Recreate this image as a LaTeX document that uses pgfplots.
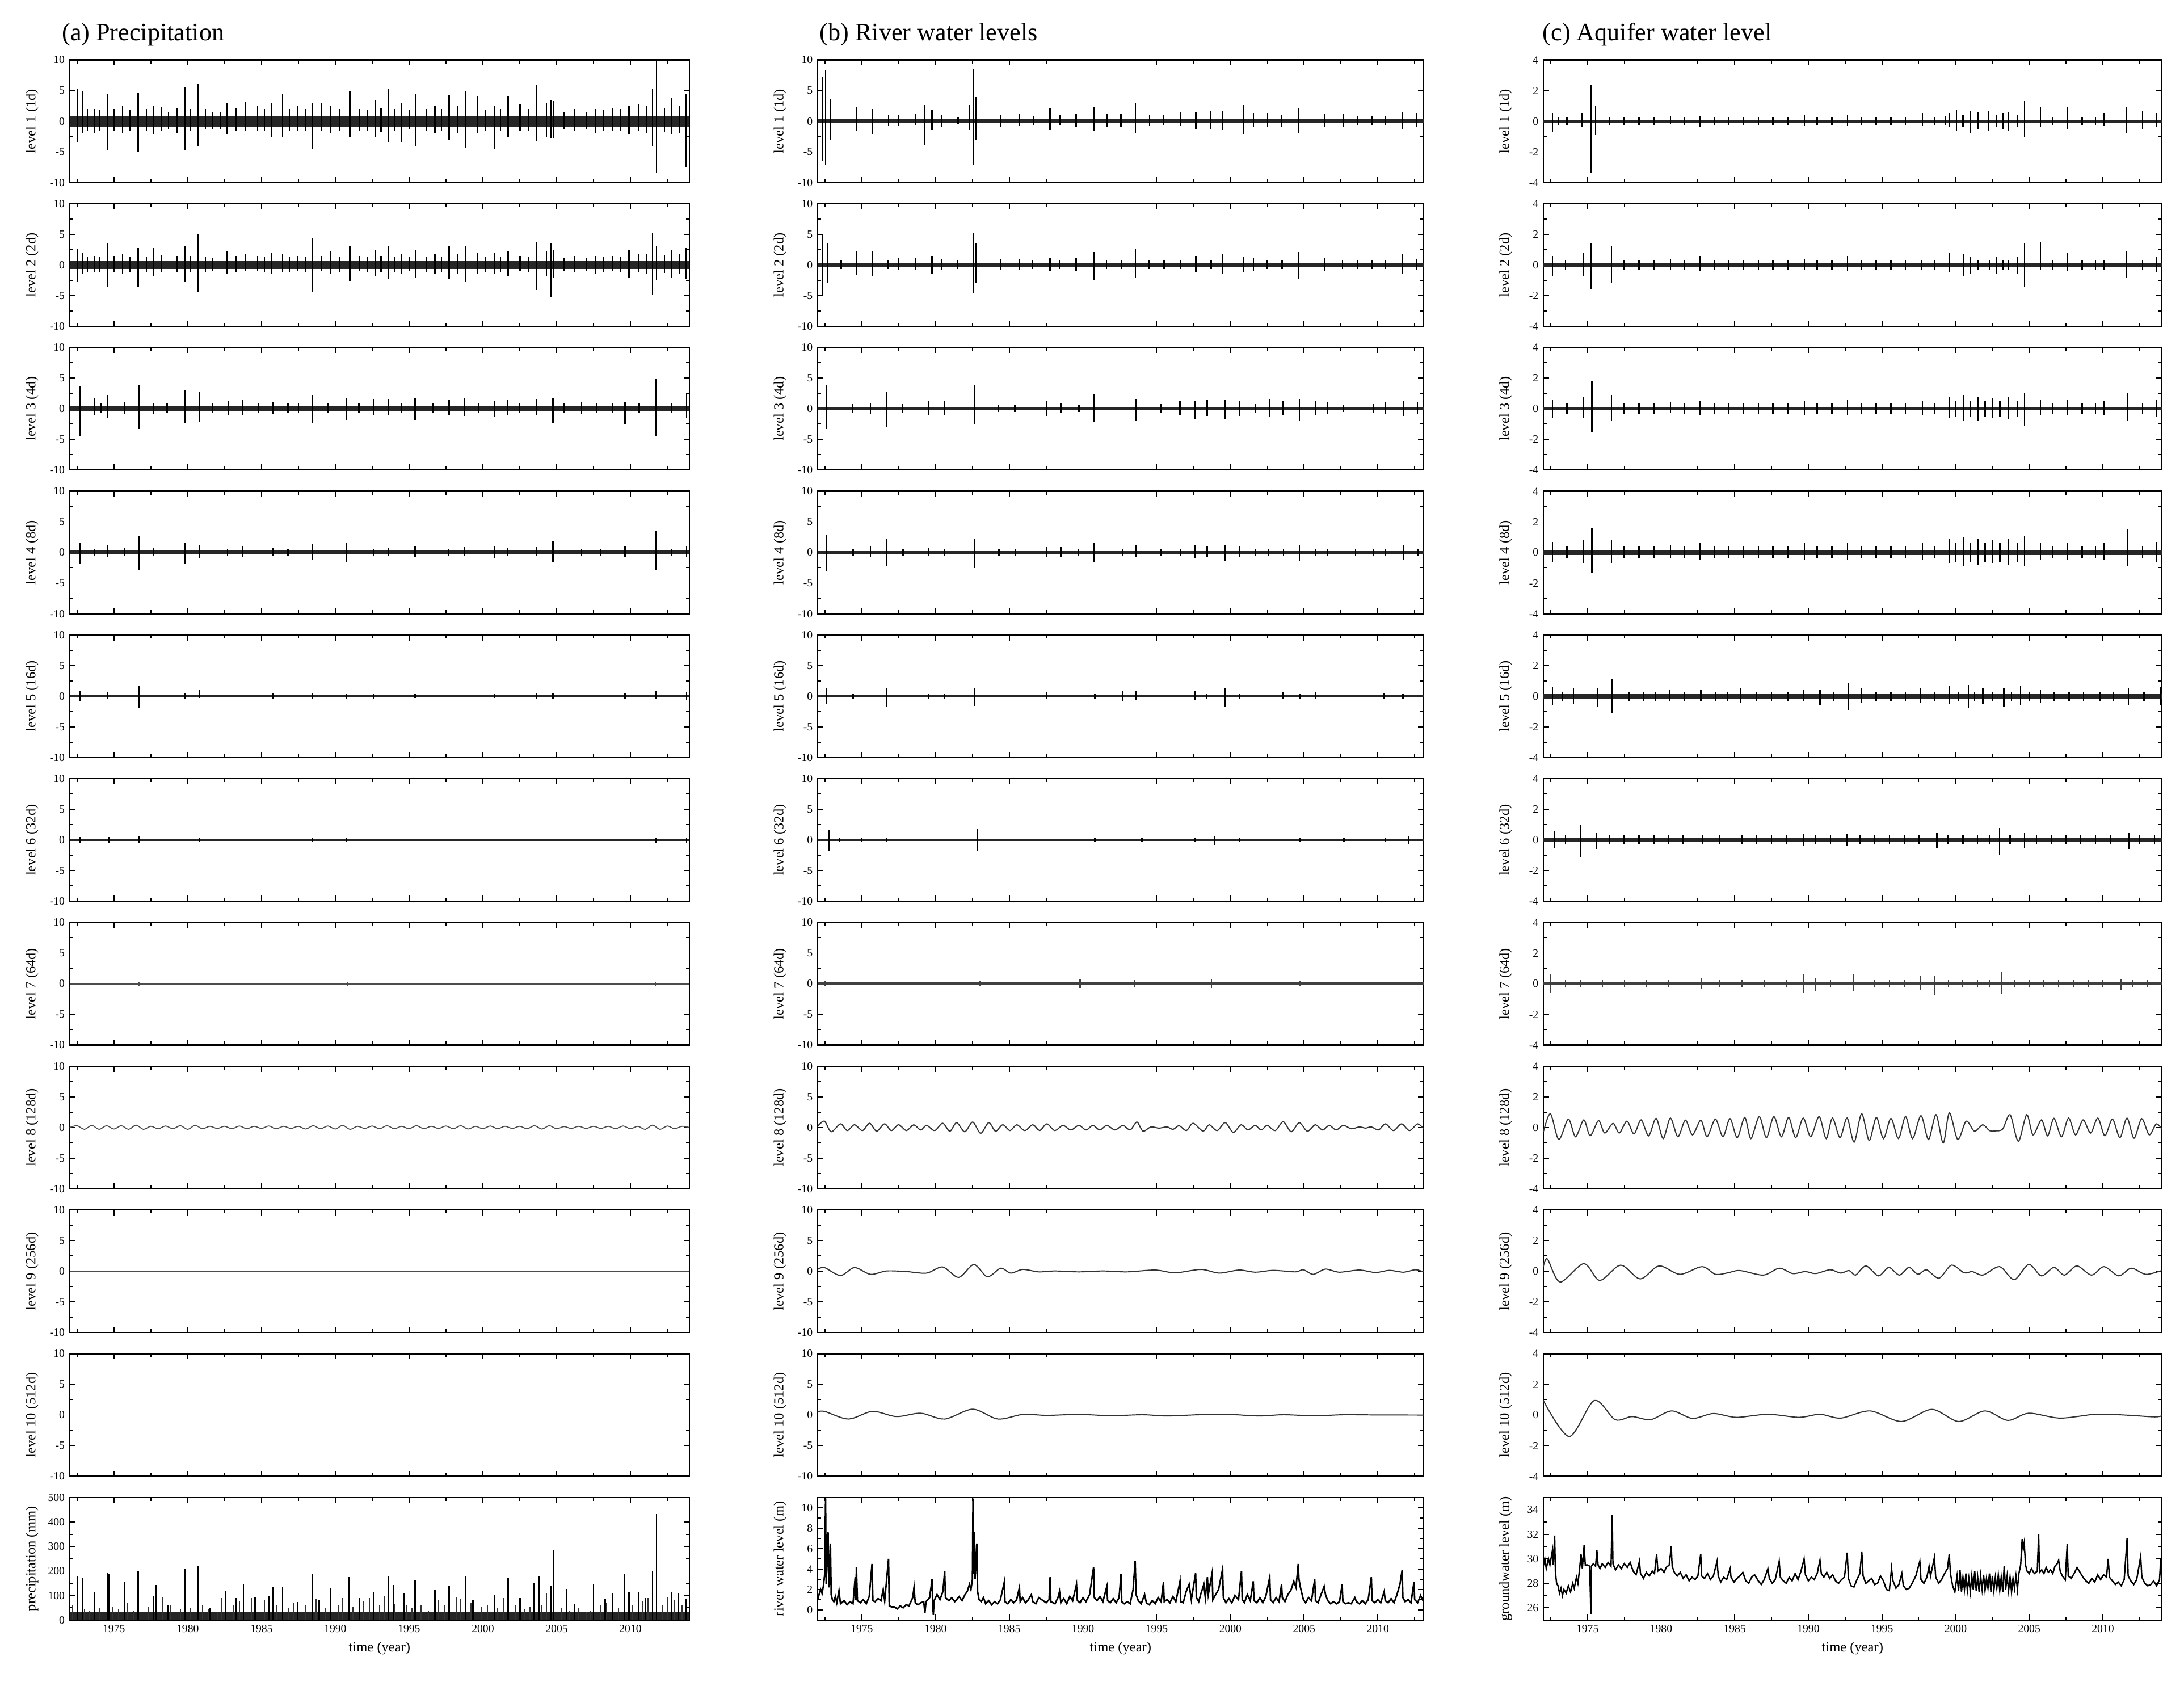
\documentclass[border=0pt]{standalone}
\usepackage{fontspec}
\setmainfont{Liberation Serif}
\usepackage{pgfplots}
\pgfplotsset{compat=1.18}

\pgfplotsset{
  base/.style={scale only axis, height=88pt, anchor=north west, xmin=1972,
    axis line style={line width=0.9pt}, tick align=inside,
    tick style={black, line width=0.7pt},
    major tick length=4pt, minor tick length=2.5pt,
    xtick={1970,1975,...,2015}, minor x tick num=1, minor y tick num=1,
    tick label style={font=\fontsize{8}{9}\selectfont},
    label style={font=\fontsize{10}{12}\selectfont},
    /pgf/number format/assume math mode=true, /pgf/number format/1000 sep={},
    every axis y label/.style={at={(axis description cs:0,0.5)}, xshift=-27pt, rotate=90, anchor=center}},
  lev/.style={base, xticklabels={}},
  A/.style={lev, at={(50pt,#1)}, width=445pt, xmax=2014, ymin=-10, ymax=10, ytick={-10,-5,0,5,10}},
  B/.style={lev, at={(587pt,#1)}, width=435pt, xmax=2013.1, ymin=-10, ymax=10, ytick={-10,-5,0,5,10}},
  C/.style={lev, at={(1108pt,#1)}, width=444pt, xmax=2014, ymin=-4, ymax=4, ytick={-4,-2,0,2,4}},
  spk/.style={ycomb, black, line width=#1, mark=none},
  spk/.default=1.0pt,
  band/.style={black!85, line width=#1},
  wave/.style={black!80, line width=0.8pt, smooth, tension=0.5, mark=none},
}

\begin{document}
\begin{tikzpicture}
\path[use as bounding box] (0,0) rectangle (1568pt,-1210pt);
\node[anchor=base west, font=\fontsize{18}{20}\selectfont] at (41pt,-29pt) {(a) Precipitation};
\node[anchor=base west, font=\fontsize{18}{20}\selectfont] at (585pt,-29pt) {(b) River water levels};
\node[anchor=base west, font=\fontsize{18}{20}\selectfont] at (1104pt,-29pt) {(c) Aquifer water level};

% ---------------- (a) precipitation ----------------
\begin{axis}[A={-43pt}, ylabel={level 1 (1d)}]
\addplot[band=8pt] coordinates {(1972,0) (2014,0)};
\addplot[spk] coordinates {(1972.55,5.2)(1972.55,-3.5)(1972.87,5.0)(1972.87,-2.0)(1973.2,2.0)(1973.2,-1.5)(1973.67,2.0)(1973.67,-2.0)(1974.0,1.8)(1974.0,-1.5)(1974.56,4.5)(1974.56,-4.8)(1975.0,2.0)(1975.0,-1.5)(1975.59,2.5)(1975.59,-2.0)(1976.1,1.8)(1976.1,-1.6)(1976.65,4.6)(1976.65,-5.0)(1977.2,2.0)(1977.2,-1.5)(1977.67,2.5)(1977.67,-2.2)(1978.2,2.3)(1978.2,-1.5)(1978.7,1.5)(1978.7,-1.2)(1979.28,2.2)(1979.28,-2.0)(1979.82,5.5)(1979.82,-4.8)(1980.2,2.0)(1980.2,-1.5)(1980.72,6.1)(1980.72,-4.0)(1981.2,2.0)(1981.2,-1.3)(1981.68,1.5)(1981.68,-1.2)(1982.2,1.5)(1982.2,-1.2)(1982.64,3.0)(1982.64,-2.2)(1983.3,2.2)(1983.3,-1.5)(1983.93,3.2)(1983.93,-1.5)(1984.73,2.5)(1984.73,-1.5)(1985.2,2.0)(1985.2,-1.5)(1985.69,3.0)(1985.69,-2.5)(1986.43,4.5)(1986.43,-2.5)(1986.9,2.0)(1986.9,-1.6)(1987.45,2.5)(1987.45,-1.5)(1988.0,2.0)(1988.0,-1.5)(1988.42,3.0)(1988.42,-4.5)(1989.06,3.0)(1989.06,-1.5)(1989.70,2.5)(1989.70,-2.0)(1990.3,2.0)(1990.3,-1.5)(1990.98,5.0)(1990.98,-2.5)(1991.62,2.0)(1991.62,-1.5)(1992.2,1.8)(1992.2,-1.5)(1992.74,3.5)(1992.74,-2.5)(1993.1,2.2)(1993.1,-1.8)(1993.61,5.3)(1993.61,-3.5)(1994.0,2.0)(1994.0,-1.5)(1994.51,3.0)(1994.51,-3.5)(1995.0,1.8)(1995.0,-1.2)(1995.47,4.5)(1995.47,-4.0)(1996.2,2.0)(1996.2,-1.5)(1996.75,2.5)(1996.75,-2.0)(1997.2,2.0)(1997.2,-1.5)(1997.71,4.3)(1997.71,-3.0)(1998.3,2.5)(1998.3,-2.0)(1998.84,5.0)(1998.84,-4.3)(1999.64,4.0)(1999.64,-2.0)(2000.2,1.8)(2000.2,-1.5)(2000.76,2.5)(2000.76,-4.5)(2001.2,2.0)(2001.2,-1.5)(2001.72,4.0)(2001.72,-2.5)(2002.52,2.7)(2002.52,-1.5)(2003.1,2.0)(2003.1,-1.5)(2003.64,6.0)(2003.64,-3.2)(2004.3,3.0)(2004.3,-2.5)(2004.61,3.5)(2004.61,-2.8)(2004.8,3.3)(2004.8,-2.8)(2005.5,1.5)(2005.5,-1.2)(2006.21,2.0)(2006.21,-1.5)(2007.0,1.5)(2007.0,-1.2)(2007.65,2.0)(2007.65,-2.0)(2008.2,1.8)(2008.2,-1.5)(2008.77,2.2)(2008.77,-1.5)(2009.3,2.0)(2009.3,-1.6)(2009.90,2.5)(2009.90,-2.2)(2010.54,2.8)(2010.54,-1.5)(2011.1,2.5)(2011.1,-2.0)(2011.50,5.3)(2011.50,-4.0)(2011.76,10.0)(2011.76,-8.5)(2012.3,2.2)(2012.3,-1.8)(2012.78,3.8)(2012.78,-2.2)(2013.3,2.5)(2013.3,-2.0)(2013.74,4.5)(2013.74,-7.5)};
\end{axis}

\begin{axis}[A={-146.2pt}, ylabel={level 2 (2d)}]
\addplot[band=6pt] coordinates {(1972,0) (2014,0)};
\addplot[spk] coordinates {(1972.55,2.6)(1972.55,-2.8)(1972.87,2.0)(1972.87,-1.5)(1973.2,1.4)(1973.2,-1.2)(1973.67,1.5)(1973.67,-1.2)(1974.0,1.3)(1974.0,-1.1)(1974.56,3.6)(1974.56,-3.5)(1975.0,1.5)(1975.0,-1.2)(1975.59,1.8)(1975.59,-1.5)(1976.1,1.4)(1976.1,-1.2)(1976.65,2.8)(1976.65,-3.5)(1977.2,1.4)(1977.2,-1.2)(1977.67,2.8)(1977.67,-1.8)(1978.2,1.6)(1978.2,-1.2)(1979.28,1.5)(1979.28,-1.2)(1979.82,3.1)(1979.82,-2.8)(1980.2,1.5)(1980.2,-1.2)(1980.72,5.0)(1980.72,-4.4)(1981.2,1.4)(1981.2,-1.1)(1981.68,1.2)(1981.68,-1.0)(1982.64,2.2)(1982.64,-1.5)(1983.3,1.5)(1983.3,-1.2)(1983.93,1.8)(1983.93,-1.0)(1984.73,1.5)(1984.73,-1.0)(1985.2,1.4)(1985.2,-1.1)(1985.69,2.0)(1985.69,-1.5)(1986.43,1.8)(1986.43,-1.2)(1986.9,1.4)(1986.9,-1.1)(1987.45,1.5)(1987.45,-1.0)(1988.0,1.4)(1988.0,-1.1)(1988.42,4.3)(1988.42,-4.4)(1989.06,1.5)(1989.06,-1.0)(1989.70,2.2)(1989.70,-1.5)(1990.3,1.4)(1990.3,-1.1)(1990.98,3.1)(1990.98,-2.6)(1991.62,1.5)(1991.62,-1.0)(1992.2,1.3)(1992.2,-1.1)(1992.74,2.4)(1992.74,-1.8)(1993.1,1.5)(1993.1,-1.2)(1993.61,3.1)(1993.61,-2.3)(1994.0,1.4)(1994.0,-1.1)(1994.51,1.8)(1994.51,-1.5)(1995.0,1.3)(1995.0,-1.0)(1995.47,2.5)(1995.47,-2.0)(1996.2,1.4)(1996.2,-1.1)(1996.75,1.8)(1996.75,-1.5)(1997.2,1.4)(1997.2,-1.1)(1997.71,3.1)(1997.71,-2.3)(1998.3,1.8)(1998.3,-1.4)(1998.84,3.0)(1998.84,-2.8)(1999.64,2.0)(1999.64,-1.5)(2000.2,1.3)(2000.2,-1.1)(2000.76,2.0)(2000.76,-1.5)(2001.2,1.4)(2001.2,-1.1)(2001.72,2.3)(2001.72,-1.8)(2002.52,1.5)(2002.52,-1.0)(2003.1,1.4)(2003.1,-1.1)(2003.64,3.8)(2003.64,-4.1)(2004.3,2.2)(2004.3,-1.8)(2004.61,3.5)(2004.61,-5.2)(2004.8,2.4)(2004.8,-2.0)(2005.5,1.2)(2005.5,-1.0)(2006.21,1.5)(2006.21,-1.2)(2007.0,1.2)(2007.0,-1.0)(2007.65,1.5)(2007.65,-1.5)(2008.2,1.3)(2008.2,-1.1)(2008.77,1.5)(2008.77,-1.0)(2009.3,1.4)(2009.3,-1.1)(2009.90,2.5)(2009.90,-2.0)(2010.54,1.8)(2010.54,-1.2)(2011.1,1.8)(2011.1,-1.5)(2011.50,5.3)(2011.50,-4.9)(2011.76,3.0)(2011.76,-2.5)(2012.3,1.6)(2012.3,-1.3)(2012.78,2.5)(2012.78,-2.0)(2013.3,1.8)(2013.3,-1.5)(2013.74,2.8)(2013.74,-2.3)};
\end{axis}

\begin{axis}[A={-249.4pt}, ylabel={level 3 (4d)}]
\addplot[band=3.5pt] coordinates {(1972,0) (2014,0)};
\addplot[spk] coordinates {(1972.70,3.7)(1972.70,-4.4)(1973.67,1.8)(1973.67,-1.0)(1974.1,0.9)(1974.1,-0.7)(1974.59,2.2)(1974.59,-1.5)(1975.71,1.1)(1975.71,-0.8)(1976.68,3.9)(1976.68,-3.3)(1977.71,0.9)(1977.71,-0.8)(1978.6,0.9)(1978.6,-0.7)(1979.80,3.1)(1979.80,-2.3)(1980.78,2.8)(1980.78,-2.2)(1981.7,0.9)(1981.7,-0.7)(1982.73,1.3)(1982.73,-1.0)(1983.71,1.5)(1983.71,-1.1)(1984.8,0.9)(1984.8,-0.7)(1985.80,1.1)(1985.80,-0.8)(1986.8,0.9)(1986.8,-0.7)(1987.5,0.9)(1987.5,-0.7)(1988.44,2.2)(1988.44,-2.3)(1989.5,0.9)(1989.5,-0.7)(1990.76,1.8)(1990.76,-1.8)(1991.6,0.9)(1991.6,-0.7)(1992.62,1.6)(1992.62,-1.1)(1993.60,1.6)(1993.60,-1.0)(1994.5,0.9)(1994.5,-0.7)(1995.41,1.8)(1995.41,-1.8)(1996.6,0.9)(1996.6,-0.7)(1997.72,1.5)(1997.72,-1.0)(1998.76,1.8)(1998.76,-1.2)(1999.7,0.9)(1999.7,-0.7)(2000.79,1.3)(2000.79,-1.3)(2001.68,1.5)(2001.68,-1.1)(2002.5,0.9)(2002.5,-0.7)(2003.63,1.6)(2003.63,-1.1)(2004.75,1.8)(2004.75,-2.3)(2005.5,0.9)(2005.5,-0.7)(2006.70,1.1)(2006.70,-0.8)(2007.7,0.9)(2007.7,-0.7)(2008.8,0.9)(2008.8,-0.7)(2009.63,1.1)(2009.63,-2.6)(2010.6,0.9)(2010.6,-0.7)(2011.72,4.9)(2011.72,-4.5)(2012.8,0.9)(2012.8,-0.7)(2013.81,2.6)(2013.81,-1.5)};
\end{axis}

\begin{axis}[A={-352.6pt}, ylabel={level 4 (8d)}]
\addplot[band=2.6pt] coordinates {(1972,0) (2014,0)};
\addplot[spk] coordinates {(1972.70,1.6)(1972.70,-1.8)(1973.7,0.6)(1973.7,-0.6)(1974.59,1.2)(1974.59,-0.8)(1975.71,0.8)(1975.71,-0.5)(1976.68,2.7)(1976.68,-2.9)(1977.71,0.8)(1977.71,-0.5)(1979.80,1.6)(1979.80,-1.8)(1980.78,1.2)(1980.78,-0.9)(1982.7,0.6)(1982.7,-0.6)(1983.71,1.0)(1983.71,-0.8)(1985.80,0.8)(1985.80,-0.5)(1986.8,0.6)(1986.8,-0.6)(1988.44,1.4)(1988.44,-1.2)(1990.76,1.6)(1990.76,-1.6)(1992.6,0.6)(1992.6,-0.6)(1993.60,0.8)(1993.60,-0.5)(1995.41,1.0)(1995.41,-0.8)(1997.7,0.6)(1997.7,-0.6)(1998.76,0.9)(1998.76,-0.6)(2000.79,1.1)(2000.79,-1.0)(2001.68,0.8)(2001.68,-0.5)(2003.63,0.9)(2003.63,-0.6)(2004.75,1.9)(2004.75,-1.6)(2006.7,0.6)(2006.7,-0.6)(2008.0,0.6)(2008.0,-0.6)(2009.63,1.0)(2009.63,-0.8)(2011.72,3.6)(2011.72,-2.9)(2012.8,0.6)(2012.8,-0.6)(2013.81,1.0)(2013.81,-0.8)};
\end{axis}

\begin{axis}[A={-455.8pt}, ylabel={level 5 (16d)}]
\addplot[band=1.8pt] coordinates {(1972,0) (2014,0)};
\addplot[spk=1pt] coordinates {(1972.70,0.8)(1972.70,-0.8)(1974.59,0.7)(1974.59,-0.5)(1976.68,1.7)(1976.68,-1.85)(1979.8,0.5)(1979.8,-0.4)(1980.78,1.0)(1980.78,-0.3)(1985.80,0.5)(1985.80,-0.4)(1988.44,0.5)(1988.44,-0.4)(1990.76,0.4)(1990.76,-0.4)(1992.62,0.4)(1992.62,-0.4)(1995.4,0.4)(1995.4,-0.3)(2000.8,0.4)(2000.8,-0.3)(2003.63,0.5)(2003.63,-0.4)(2004.75,0.5)(2004.75,-0.4)(2009.63,0.5)(2009.63,-0.4)(2011.72,0.8)(2011.72,-0.5)(2013.81,0.6)(2013.81,-0.6)};
\end{axis}

\begin{axis}[A={-559pt}, ylabel={level 6 (32d)}]
\addplot[band=1.3pt] coordinates {(1972,0) (2014,0)};
\addplot[spk=1pt] coordinates {(1972.70,0.5)(1972.70,-0.5)(1974.65,0.5)(1974.65,-0.5)(1976.68,0.6)(1976.68,-0.5)(1980.78,0.3)(1980.78,-0.3)(1988.44,0.3)(1988.44,-0.3)(1990.76,0.35)(1990.76,-0.3)(2011.72,0.4)(2011.72,-0.4)(2013.81,0.4)(2013.81,-0.4)};
\end{axis}

\begin{axis}[A={-662.2pt}, ylabel={level 7 (64d)}]
\addplot[band=1.1pt, black!70] coordinates {(1972,0) (2014,0)};
\addplot[spk=0.8pt, black!70] coordinates {(1976.7,0.3)(1976.7,-0.3)(1990.8,0.3)(1990.8,-0.3)(2011.7,0.3)(2011.7,-0.3)};
\end{axis}

\begin{axis}[A={-765.4pt}, ylabel={level 8 (128d)}]
\addplot[wave, black!70, line width=0.7pt] coordinates {(1972.0,0)(1972.5,0.3)(1973.0,-0.3)(1973.5,0.35)(1974.0,-0.3)(1974.5,0.3)(1975.0,-0.25)(1975.5,0.3)(1976.0,-0.3)(1976.5,0.4)(1977.0,-0.3)(1977.5,0.2)(1978.0,-0.2)(1978.5,0.25)(1979.0,-0.2)(1979.5,0.3)(1980.0,-0.3)(1980.5,0.35)(1981.0,-0.2)(1981.5,0.2)(1982.0,-0.15)(1982.5,0.2)(1983.0,-0.2)(1983.5,0.25)(1984.0,-0.2)(1984.5,0.2)(1985.0,-0.15)(1985.5,0.25)(1986.0,-0.2)(1986.5,0.2)(1987.0,-0.15)(1987.5,0.2)(1988.0,-0.25)(1988.5,0.3)(1989.0,-0.2)(1989.5,0.25)(1990.0,-0.25)(1990.5,0.35)(1991.0,-0.3)(1991.5,0.2)(1992.0,-0.15)(1992.5,0.25)(1993.0,-0.2)(1993.5,0.3)(1994.0,-0.2)(1994.5,0.2)(1995.0,-0.2)(1995.5,0.3)(1996.0,-0.2)(1996.5,0.2)(1997.0,-0.15)(1997.5,0.25)(1998.0,-0.2)(1998.5,0.3)(1999.0,-0.25)(1999.5,0.2)(2000.0,-0.2)(2000.5,0.25)(2001.0,-0.2)(2001.5,0.2)(2002.0,-0.15)(2002.5,0.2)(2003.0,-0.2)(2003.5,0.3)(2004.0,-0.25)(2004.5,0.3)(2005.0,-0.2)(2005.5,0.15)(2006.0,-0.15)(2006.5,0.2)(2007.0,-0.15)(2007.5,0.2)(2008.0,-0.15)(2008.5,0.2)(2009.0,-0.2)(2009.5,0.25)(2010.0,-0.2)(2010.5,0.2)(2011.0,-0.3)(2011.5,0.4)(2012.0,-0.3)(2012.5,0.25)(2013.0,-0.2)(2013.5,0.2)(2014.0,0)};
\end{axis}

\begin{axis}[A={-868.6pt}, ylabel={level 9 (256d)}]
\addplot[band=0.9pt, black!70] coordinates {(1972,0) (2014,0)};
\end{axis}

\begin{axis}[A={-971.8pt}, ylabel={level 10 (512d)}]
\addplot[band=0.7pt, black!70] coordinates {(1972,0) (2014,0)};
\end{axis}

\begin{axis}[base, at={(50pt,-1075pt)}, width=445pt, xmax=2014, ymin=0, ymax=500, ytick={0,100,...,500},
  xlabel={time (year)}, ylabel={precipitation (mm)}]
\addplot[band=5.6pt] coordinates {(1972,16) (2014,16)};
\addplot[spk=0.8pt, black!80] coordinates {(1972.2,60)(1973.0,45)(1973.3,40)(1974.0,50)(1974.9,55)(1975.3,45)(1975.9,70)(1976.3,40)(1977.3,55)(1977.9,90)(1978.3,95)(1978.8,60)(1979.5,45)(1980.2,50)(1981.0,60)(1981.4,45)(1982.0,35)(1982.3,90)(1983.1,60)(1983.5,75)(1984.3,90)(1985.2,80)(1986.0,60)(1986.8,50)(1987.2,70)(1988.0,60)(1988.7,85)(1989.3,50)(1990.2,60)(1990.5,90)(1991.2,55)(1991.9,75)(1992.3,90)(1993.0,60)(1993.3,100)(1994.0,65)(1994.8,60)(1995.2,50)(1995.8,60)(1996.3,40)(1997.0,80)(1997.4,60)(1998.2,95)(1998.5,85)(1999.2,70)(1999.9,55)(2000.3,60)(2001.0,50)(2001.4,90)(2002.2,60)(2002.8,45)(2003.2,55)(2004.0,60)(2004.3,110)(2004.8,100)(2005.3,50)(2005.9,40)(2006.5,50)(2007.0,35)(2007.3,40)(2008.0,60)(2008.4,70)(2009.2,50)(2009.6,80)(2010.1,60)(2010.8,75)(2011.2,90)(2012.2,60)(2012.5,95)(2013.0,80)(2013.5,60)};
\addplot[spk=1pt] coordinates {(1972.55,181)(1972.87,174)(1973.67,116)(1974.56,193)(1974.69,189)(1975.75,158)(1976.65,200)(1977.67,96)(1977.84,143)(1978.64,62)(1979.82,210)(1980.72,221)(1981.52,50)(1982.58,121)(1983.29,89)(1983.77,147)(1984.57,93)(1985.53,96)(1985.79,133)(1986.43,135)(1987.45,73)(1988.42,187)(1988.90,81)(1989.70,131)(1990.92,175)(1991.62,89)(1992.58,116)(1993.61,181)(1993.93,143)(1994.67,108)(1995.40,162)(1996.75,123)(1997.71,139)(1998.84,180)(1999.32,81)(2000.76,104)(2001.72,174)(2002.52,89)(2003.48,150)(2003.80,181)(2004.61,139)(2004.77,285)(2005.66,127)(2006.21,66)(2007.49,147)(2008.29,85)(2008.77,108)(2009.58,189)(2009.90,116)(2010.54,116)(2011.02,89)(2011.50,200)(2011.76,432)(2012.78,116)(2013.26,108)(2013.74,85)};
\end{axis}

% ---------------- (b) river water levels ----------------
\begin{axis}[B={-43pt}, ylabel={level 1 (1d)}]
\addplot[band=2.6pt] coordinates {(1972,0) (2014,0)};
\addplot[spk] coordinates {(1972.32,7.3)(1972.32,-6.4)(1972.55,8.4)(1972.55,-7.1)(1972.87,3.7)(1972.87,-3.1)(1974.63,2.4)(1974.63,-1.6)(1975.69,2.0)(1975.69,-2.1)(1976.81,1.0)(1976.81,-0.8)(1977.51,1.0)(1977.51,-0.8)(1978.64,1.2)(1978.64,-0.6)(1979.28,2.6)(1979.28,-3.9)(1979.76,1.9)(1979.76,-1.4)(1980.40,1.0)(1980.40,-1.0)(1981.52,0.6)(1981.52,-0.5)(1982.32,2.6)(1982.32,-1.4)(1982.55,8.6)(1982.55,-7.1)(1982.74,3.9)(1982.74,-3.1)(1984.41,1.0)(1984.41,-1.0)(1985.69,1.2)(1985.69,-0.8)(1986.65,0.9)(1986.65,-0.6)(1987.77,2.1)(1987.77,-1.4)(1988.42,1.0)(1988.42,-0.7)(1989.54,1.2)(1989.54,-1.0)(1990.72,2.4)(1990.72,-1.6)(1991.62,1.2)(1991.62,-1.0)(1992.58,1.2)(1992.58,-1.0)(1993.55,2.9)(1993.55,-1.9)(1994.51,1.0)(1994.51,-0.8)(1995.47,1.0)(1995.47,-0.7)(1996.59,1.4)(1996.59,-0.8)(1997.65,1.5)(1997.65,-1.2)(1998.68,1.6)(1998.68,-1.3)(1999.48,1.7)(1999.48,-1.4)(2000.86,2.6)(2000.86,-2.1)(2001.56,1.3)(2001.56,-1.0)(2002.52,1.3)(2002.52,-1.0)(2003.48,1.1)(2003.48,-0.9)(2004.61,2.2)(2004.61,-1.9)(2006.37,1.2)(2006.37,-1.0)(2007.65,1.2)(2007.65,-1.0)(2008.61,0.8)(2008.61,-0.6)(2009.58,0.8)(2009.58,-0.6)(2010.54,0.9)(2010.54,-0.7)(2011.66,1.5)(2011.66,-1.3)(2012.62,1.3)(2012.62,-1.0)};
\end{axis}

\begin{axis}[B={-146.2pt}, ylabel={level 2 (2d)}]
\addplot[band=2.6pt] coordinates {(1972,0) (2014,0)};
\addplot[spk] coordinates {(1972.32,5.0)(1972.32,-4.9)(1972.70,3.5)(1972.70,-3.0)(1973.6,0.8)(1973.6,-0.7)(1974.63,2.3)(1974.63,-1.6)(1975.69,2.3)(1975.69,-1.8)(1976.8,0.8)(1976.8,-0.7)(1977.51,1.2)(1977.51,-0.8)(1978.64,1.2)(1978.64,-0.8)(1979.76,1.5)(1979.76,-1.5)(1980.40,1.0)(1980.40,-0.8)(1981.5,0.8)(1981.5,-0.7)(1982.55,5.3)(1982.55,-4.6)(1982.74,3.5)(1982.74,-3.0)(1984.41,1.0)(1984.41,-0.8)(1985.69,1.0)(1985.69,-0.8)(1986.6,0.8)(1986.6,-0.7)(1987.77,1.2)(1987.77,-1.0)(1988.4,0.8)(1988.4,-0.7)(1989.54,1.2)(1989.54,-0.9)(1990.72,2.1)(1990.72,-2.5)(1991.6,0.8)(1991.6,-0.7)(1992.6,0.8)(1992.6,-0.7)(1993.55,2.6)(1993.55,-2.0)(1994.5,0.8)(1994.5,-0.7)(1995.5,0.8)(1995.5,-0.7)(1996.6,0.8)(1996.6,-0.7)(1997.65,1.5)(1997.65,-1.2)(1998.7,0.8)(1998.7,-0.7)(1999.48,1.8)(1999.48,-1.4)(2000.86,1.3)(2000.86,-1.1)(2001.56,1.2)(2001.56,-0.9)(2002.5,0.8)(2002.5,-0.7)(2003.5,0.8)(2003.5,-0.7)(2004.61,2.1)(2004.61,-2.3)(2006.37,1.2)(2006.37,-0.9)(2007.6,0.8)(2007.6,-0.7)(2008.6,0.8)(2008.6,-0.7)(2009.6,0.8)(2009.6,-0.7)(2010.5,0.8)(2010.5,-0.7)(2011.66,1.8)(2011.66,-1.4)(2012.62,1.0)(2012.62,-0.8)};
\end{axis}

\begin{axis}[B={-249.4pt}, ylabel={level 3 (4d)}]
\addplot[band=2.2pt] coordinates {(1972,0) (2014,0)};
\addplot[spk] coordinates {(1972.60,3.8)(1972.60,-3.3)(1974.36,0.8)(1974.36,-0.6)(1975.59,0.9)(1975.59,-0.8)(1976.68,2.8)(1976.68,-3.0)(1977.76,0.8)(1977.76,-0.6)(1979.53,1.2)(1979.53,-1.0)(1980.62,1.2)(1980.62,-1.0)(1982.66,3.8)(1982.66,-2.6)(1984.29,0.6)(1984.29,-0.5)(1985.37,0.6)(1985.37,-0.5)(1987.55,1.2)(1987.55,-1.2)(1988.50,0.9)(1988.50,-0.7)(1989.72,0.6)(1989.72,-0.5)(1990.76,2.3)(1990.76,-2.1)(1993.58,1.6)(1993.58,-1.9)(1995.29,0.8)(1995.29,-0.6)(1996.57,1.2)(1996.57,-1.0)(1997.60,1.3)(1997.60,-1.6)(1998.42,1.5)(1998.42,-1.2)(1999.64,1.5)(1999.64,-1.6)(2000.59,1.3)(2000.59,-1.2)(2001.68,0.8)(2001.68,-0.6)(2002.63,1.6)(2002.63,-1.4)(2003.58,1.2)(2003.58,-1.0)(2004.67,1.6)(2004.67,-2.0)(2005.76,1.2)(2005.76,-1.0)(2006.57,1.0)(2006.57,-0.8)(2007.66,0.6)(2007.66,-0.5)(2009.70,0.8)(2009.70,-0.6)(2010.52,1.0)(2010.52,-0.8)(2011.74,1.3)(2011.74,-1.2)(2012.69,1.0)(2012.69,-0.8)};
\end{axis}

\begin{axis}[B={-352.6pt}, ylabel={level 4 (8d)}]
\addplot[band=2.2pt] coordinates {(1972,0) (2014,0)};
\addplot[spk] coordinates {(1972.60,2.8)(1972.60,-3.0)(1974.4,0.6)(1974.4,-0.6)(1975.59,1.0)(1975.59,-0.7)(1976.68,2.2)(1976.68,-2.2)(1977.8,0.6)(1977.8,-0.6)(1979.53,0.8)(1979.53,-0.6)(1980.6,0.6)(1980.6,-0.6)(1982.66,2.2)(1982.66,-2.5)(1984.3,0.6)(1984.3,-0.6)(1985.4,0.6)(1985.4,-0.6)(1987.55,0.9)(1987.55,-0.7)(1988.50,0.9)(1988.50,-0.7)(1989.7,0.6)(1989.7,-0.6)(1990.76,1.6)(1990.76,-1.6)(1992.7,0.6)(1992.7,-0.6)(1993.58,1.2)(1993.58,-0.8)(1995.3,0.6)(1995.3,-0.6)(1996.6,0.6)(1996.6,-0.6)(1997.60,1.2)(1997.60,-1.0)(1998.42,1.0)(1998.42,-0.8)(1999.64,1.3)(1999.64,-1.3)(2000.59,1.0)(2000.59,-0.8)(2001.7,0.6)(2001.7,-0.6)(2002.6,0.6)(2002.6,-0.6)(2003.6,0.6)(2003.6,-0.6)(2004.67,1.3)(2004.67,-1.4)(2005.8,0.6)(2005.8,-0.6)(2006.6,0.6)(2006.6,-0.6)(2008.5,0.6)(2008.5,-0.6)(2009.7,0.6)(2009.7,-0.6)(2010.5,0.6)(2010.5,-0.6)(2011.74,1.2)(2011.74,-1.2)(2012.7,0.6)(2012.7,-0.6)};
\end{axis}

\begin{axis}[B={-455.8pt}, ylabel={level 5 (16d)}]
\addplot[band=1.8pt] coordinates {(1972,0) (2014,0)};
\addplot[spk=1pt] coordinates {(1972.60,1.4)(1972.60,-1.3)(1974.4,0.4)(1974.4,-0.4)(1976.68,1.4)(1976.68,-1.8)(1979.5,0.4)(1979.5,-0.4)(1980.6,0.4)(1980.6,-0.4)(1982.66,1.3)(1982.66,-1.6)(1987.55,0.6)(1987.55,-0.5)(1990.8,0.4)(1990.8,-0.4)(1992.71,0.8)(1992.71,-0.8)(1993.58,0.9)(1993.58,-0.6)(1997.60,0.8)(1997.60,-0.6)(1998.4,0.4)(1998.4,-0.4)(1999.64,1.4)(1999.64,-1.8)(2000.6,0.4)(2000.6,-0.4)(2003.58,0.7)(2003.58,-0.5)(2004.7,0.4)(2004.7,-0.4)(2005.76,0.6)(2005.76,-0.5)(2010.40,0.5)(2010.40,-0.4)(2011.7,0.4)(2011.7,-0.4)};
\end{axis}

\begin{axis}[B={-559pt}, ylabel={level 6 (32d)}]
\addplot[band=1.6pt] coordinates {(1972,0) (2014,0)};
\addplot[spk=1pt] coordinates {(1972.80,1.6)(1972.80,-1.8)(1973.5,0.35)(1973.5,-0.35)(1975.0,0.35)(1975.0,-0.35)(1976.7,0.35)(1976.7,-0.35)(1982.85,1.8)(1982.85,-1.8)(1990.8,0.35)(1990.8,-0.35)(1994.0,0.35)(1994.0,-0.35)(1997.6,0.35)(1997.6,-0.35)(1998.90,0.6)(1998.90,-0.8)(2000.6,0.35)(2000.6,-0.35)(2004.7,0.35)(2004.7,-0.35)(2007.7,0.35)(2007.7,-0.35)(2010.5,0.35)(2010.5,-0.35)(2012.10,0.6)(2012.10,-0.6)};
\end{axis}

\begin{axis}[B={-662.2pt}, ylabel={level 7 (64d)}]
\addplot[band=2pt, black!75] coordinates {(1972,0) (2014,0)};
\addplot[spk=0.9pt, black!75] coordinates {(1972.5,0.5)(1972.5,-0.4)(1983.0,0.4)(1983.0,-0.4)(1989.8,0.8)(1989.8,-0.7)(1993.5,0.6)(1993.5,-0.6)(1998.7,0.8)(1998.7,-0.7)(2004.7,0.4)(2004.7,-0.4)};
\end{axis}

\begin{axis}[B={-765.4pt}, ylabel={level 8 (128d)}]
\addplot[wave] coordinates {(1972.0,0.2)(1972.46,1.05)(1972.92,-0.7)(1973.55,0.6)(1974.01,-0.5)(1974.50,0.45)(1975.04,-0.5)(1975.53,0.7)(1976.00,-0.6)(1976.54,0.6)(1977.00,-0.5)(1977.49,0.45)(1978.03,-0.5)(1978.52,0.45)(1978.99,-0.4)(1979.39,0.35)(1979.94,-0.5)(1980.48,0.7)(1980.97,-0.6)(1981.43,0.8)(1981.98,-0.7)(1982.52,0.9)(1983.06,-0.95)(1983.61,0.8)(1984.07,-0.6)(1984.56,0.45)(1985.05,-0.5)(1985.51,0.45)(1986.05,-0.5)(1986.60,0.45)(1987.06,-0.5)(1987.55,0.6)(1988.09,-0.5)(1988.64,0.35)(1989.18,-0.4)(1989.72,0.35)(1990.21,-0.4)(1990.67,0.35)(1991.14,-0.4)(1991.62,0.35)(1992.17,-0.4)(1992.71,0.35)(1993.20,-0.4)(1993.66,0.9)(1994.07,-0.6)(1994.61,0.1)(1995.16,-0.1)(1995.70,0.1)(1996.11,-0.3)(1996.52,0.3)(1997.01,-0.5)(1997.47,0.7)(1998.15,-0.6)(1998.56,0.45)(1999.10,-0.5)(1999.65,0.8)(2000.19,-0.8)(2000.73,0.45)(2001.19,-0.4)(2001.68,0.35)(2002.09,-0.4)(2002.50,0.35)(2003.04,-0.5)(2003.58,0.95)(2004.13,-0.7)(2004.67,0.8)(2005.22,-0.6)(2005.76,0.45)(2006.25,-0.4)(2006.71,0.35)(2007.17,-0.4)(2007.66,0.35)(2008.21,-0.2)(2008.75,0.1)(2009.16,-0.1)(2009.56,0.1)(2010.05,-0.4)(2010.52,0.6)(2011.06,-0.5)(2011.61,0.6)(2012.15,-0.5)(2012.70,0.6)(2013.10,-0.2)};
\end{axis}

\begin{axis}[B={-868.6pt}, ylabel={level 9 (256d)}]
\addplot[wave] coordinates {(1972.0,0.3)(1972.46,0.6)(1973.55,-0.7)(1974.50,0.6)(1975.59,-0.5)(1976.68,0.05)(1978.03,-0.05)(1979.39,-0.3)(1980.48,0.7)(1981.57,-1.0)(1982.60,1.1)(1983.52,-0.9)(1984.42,0.5)(1985.10,-0.3)(1985.92,0.3)(1987.00,-0.1)(1988.09,0.05)(1989.72,-0.1)(1991.35,0.05)(1992.98,-0.1)(1994.89,0.2)(1996.25,-0.25)(1998.01,0.3)(1999.24,-0.3)(2000.59,0.2)(2001.68,-0.15)(2002.91,0.15)(2004.40,-0.1)(2004.94,0.25)(2005.62,-0.5)(2006.44,0.35)(2007.39,-0.15)(2008.75,0.2)(2009.84,-0.2)(2010.79,0.15)(2011.74,-0.15)(2012.56,0.25)(2013.10,-0.1)};
\end{axis}

\begin{axis}[B={-971.8pt}, ylabel={level 10 (512d)}]
\addplot[wave] coordinates {(1972.0,0.5)(1972.46,0.6)(1974.09,-0.65)(1975.72,0.6)(1977.35,-0.25)(1978.99,0.3)(1980.62,-0.65)(1982.52,0.95)(1984.23,-0.65)(1985.92,0.1)(1987.55,-0.05)(1989.72,0.1)(1991.90,-0.1)(1994.07,0.05)(1995.70,-0.15)(1997.88,0.05)(2000.05,0.08)(2001.95,-0.15)(2003.58,0.05)(2005.76,-0.12)(2007.66,0.05)(2009.84,0.02)(2013.10,0.0)};
\end{axis}

\begin{axis}[base, at={(587pt,-1075pt)}, width=435pt, xmax=2013.1, ymin=-1, ymax=11, ytick={0,2,...,10},
  xlabel={time (year)}, ylabel={river water level (m)}]
\addplot[black, line width=1.1pt] coordinates {(1972.00,1.0)(1972.10,1.5)(1972.20,2.0)(1972.30,1.6)(1972.40,2.4)(1972.48,3.5)(1972.54,10.9)(1972.58,2.5)(1972.71,7.6)(1972.76,2.2)(1972.87,6.5)(1972.92,1.5)(1973.00,1.0)(1973.10,0.8)(1973.20,1.3)(1973.30,0.7)(1973.45,1.9)(1973.55,0.6)(1973.80,0.9)(1974.00,0.5)(1974.20,0.8)(1974.40,0.6)(1974.55,3.2)(1974.60,1.0)(1974.63,4.2)(1974.70,0.9)(1974.90,0.7)(1975.10,1.0)(1975.30,0.6)(1975.50,1.3)(1975.69,4.5)(1975.75,0.9)(1975.90,0.8)(1976.10,1.1)(1976.30,0.9)(1976.45,2.0)(1976.55,0.9)(1976.81,5.0)(1976.86,0.4)(1977.00,0.3)(1977.20,0.3)(1977.40,0.1)(1977.60,0.4)(1977.80,0.2)(1978.00,0.5)(1978.20,0.4)(1978.45,1.2)(1978.54,2.2)(1978.62,0.7)(1978.80,0.5)(1979.00,0.7)(1979.20,0.8)(1979.28,-0.3)(1979.35,0.8)(1979.60,1.2)(1979.76,3.0)(1979.80,0.8)(1979.85,-0.5)(1979.90,0.9)(1980.10,1.5)(1980.30,1.0)(1980.50,1.8)(1980.62,3.8)(1980.67,1.2)(1980.90,0.9)(1981.10,1.2)(1981.30,0.8)(1981.60,1.3)(1981.80,0.9)(1982.00,1.5)(1982.15,1.8)(1982.30,2.5)(1982.40,2.0)(1982.50,3.0)(1982.54,10.9)(1982.58,3.5)(1982.64,7.6)(1982.68,3.0)(1982.80,6.5)(1982.85,1.8)(1982.95,1.0)(1983.10,0.8)(1983.25,1.2)(1983.40,0.6)(1983.60,0.9)(1983.80,0.5)(1984.00,0.8)(1984.20,0.6)(1984.40,1.0)(1984.66,2.7)(1984.71,0.8)(1984.90,0.6)(1985.10,1.0)(1985.30,0.7)(1985.50,1.0)(1985.69,2.2)(1985.74,0.8)(1985.90,1.2)(1986.10,0.7)(1986.30,1.0)(1986.50,1.5)(1986.60,0.8)(1986.80,0.6)(1987.00,1.2)(1987.30,0.9)(1987.50,0.7)(1987.70,1.0)(1987.77,3.2)(1987.82,0.8)(1988.10,0.6)(1988.30,1.2)(1988.41,1.8)(1988.50,0.7)(1988.70,1.1)(1988.90,0.6)(1989.10,1.3)(1989.30,0.9)(1989.56,2.5)(1989.62,0.9)(1989.80,0.7)(1990.00,1.2)(1990.20,0.8)(1990.45,1.5)(1990.72,4.2)(1990.77,1.2)(1990.95,0.9)(1991.15,1.3)(1991.35,0.8)(1991.62,2.3)(1991.67,0.9)(1991.85,0.7)(1992.05,1.1)(1992.25,0.7)(1992.45,1.2)(1992.58,3.5)(1992.63,0.8)(1992.80,0.6)(1993.00,0.8)(1993.20,0.6)(1993.40,2.0)(1993.54,4.8)(1993.60,1.5)(1993.75,0.9)(1993.95,0.6)(1994.18,1.5)(1994.30,0.7)(1994.50,0.5)(1994.70,0.9)(1994.90,0.6)(1995.10,1.2)(1995.30,0.8)(1995.46,2.7)(1995.51,0.8)(1995.70,1.0)(1995.90,0.7)(1996.10,1.3)(1996.30,0.8)(1996.58,2.8)(1996.63,0.8)(1996.80,0.7)(1997.00,1.8)(1997.20,2.5)(1997.35,1.0)(1997.64,3.6)(1997.69,1.2)(1997.85,0.8)(1998.00,1.6)(1998.20,2.5)(1998.30,1.2)(1998.44,3.2)(1998.50,1.5)(1998.76,3.6)(1998.81,1.0)(1999.00,1.5)(1999.20,2.0)(1999.47,4.0)(1999.52,1.2)(1999.70,0.7)(1999.90,1.1)(2000.10,0.7)(2000.30,1.4)(2000.55,1.0)(2000.75,3.8)(2000.80,1.0)(2000.95,0.7)(2001.15,1.5)(2001.35,0.9)(2001.55,2.8)(2001.60,0.9)(2001.80,0.7)(2002.00,1.2)(2002.20,0.7)(2002.40,1.3)(2002.67,3.2)(2002.72,1.0)(2002.90,0.7)(2003.10,1.2)(2003.30,0.8)(2003.47,2.5)(2003.52,1.2)(2003.70,0.8)(2003.90,1.5)(2004.10,1.9)(2004.30,2.8)(2004.45,2.2)(2004.60,4.5)(2004.65,3.0)(2004.75,2.2)(2004.85,1.6)(2004.95,1.0)(2005.10,0.7)(2005.30,1.2)(2005.50,0.9)(2005.72,3.0)(2005.77,0.9)(2005.95,0.7)(2006.15,1.5)(2006.36,2.3)(2006.45,1.5)(2006.60,0.9)(2006.80,0.6)(2007.00,0.8)(2007.20,0.6)(2007.40,0.8)(2007.58,2.5)(2007.63,0.8)(2007.80,0.6)(2008.00,0.7)(2008.20,0.6)(2008.44,1.2)(2008.55,0.8)(2008.75,0.6)(2008.95,0.9)(2009.15,0.6)(2009.35,1.0)(2009.56,3.2)(2009.61,0.9)(2009.80,0.7)(2010.00,1.0)(2010.20,0.7)(2010.43,1.8)(2010.50,0.9)(2010.70,0.7)(2010.90,1.1)(2011.10,0.7)(2011.30,1.5)(2011.50,2.5)(2011.65,3.9)(2011.70,1.2)(2011.85,0.8)(2012.05,1.0)(2012.25,0.7)(2012.45,2.7)(2012.50,1.0)(2012.70,0.7)(2012.90,1.4)(2013.10,0.8)};
\end{axis}

% ---------------- (c) aquifer water level ----------------
\begin{axis}[C={-43pt}, ylabel={level 1 (1d)}]
\addplot[band=2.2pt] coordinates {(1972,0) (2014,0)};
\addplot[spk] coordinates {(1972.62,0.5)(1972.62,-0.7)(1973.0,0.25)(1973.0,-0.25)(1973.6,0.25)(1973.6,-0.25)(1974.62,0.5)(1974.62,-0.4)(1975.24,2.35)(1975.24,-3.4)(1975.55,1.0)(1975.55,-0.9)(1976.5,0.25)(1976.5,-0.25)(1977.5,0.25)(1977.5,-0.25)(1978.5,0.25)(1978.5,-0.25)(1979.5,0.25)(1979.5,-0.25)(1980.63,0.3)(1980.63,-0.2)(1981.6,0.25)(1981.6,-0.25)(1982.64,0.35)(1982.64,-0.35)(1983.6,0.25)(1983.6,-0.25)(1984.6,0.25)(1984.6,-0.25)(1985.6,0.25)(1985.6,-0.25)(1986.6,0.25)(1986.6,-0.25)(1987.6,0.25)(1987.6,-0.25)(1988.6,0.25)(1988.6,-0.25)(1989.73,0.4)(1989.73,-0.3)(1990.6,0.25)(1990.6,-0.25)(1991.6,0.25)(1991.6,-0.25)(1992.66,0.4)(1992.66,-0.3)(1993.6,0.25)(1993.6,-0.25)(1994.6,0.25)(1994.6,-0.25)(1995.6,0.25)(1995.6,-0.25)(1996.6,0.25)(1996.6,-0.25)(1997.75,0.5)(1997.75,-0.3)(1998.6,0.25)(1998.6,-0.25)(1999.3,0.3)(1999.3,-0.25)(1999.6,0.55)(1999.6,-0.4)(2000.06,0.75)(2000.06,-0.6)(2000.5,0.4)(2000.5,-0.4)(2000.99,0.7)(2000.99,-0.75)(2001.5,0.6)(2001.5,-0.55)(2002.22,0.7)(2002.22,-0.6)(2002.8,0.4)(2002.8,-0.4)(2003.2,0.55)(2003.2,-0.5)(2003.61,0.6)(2003.61,-0.6)(2004.2,0.4)(2004.2,-0.4)(2004.69,1.3)(2004.69,-1.0)(2005.77,0.9)(2005.77,-0.4)(2006.6,0.25)(2006.6,-0.25)(2007.61,0.9)(2007.61,-0.5)(2008.6,0.25)(2008.6,-0.25)(2009.5,0.25)(2009.5,-0.25)(2010.08,0.5)(2010.08,-0.3)(2011.62,0.9)(2011.62,-0.8)(2012.70,0.7)(2012.70,-0.5)(2013.63,0.5)(2013.63,-0.4)};
\end{axis}

\begin{axis}[C={-146.2pt}, ylabel={level 2 (2d)}]
\addplot[band=2.2pt] coordinates {(1972,0) (2014,0)};
\addplot[spk] coordinates {(1972.62,0.6)(1972.62,-0.7)(1973.5,0.3)(1973.5,-0.3)(1974.70,0.8)(1974.70,-0.7)(1975.24,1.45)(1975.24,-1.55)(1976.63,1.2)(1976.63,-1.15)(1977.5,0.3)(1977.5,-0.3)(1978.5,0.3)(1978.5,-0.3)(1979.5,0.3)(1979.5,-0.3)(1980.63,0.4)(1980.63,-0.3)(1981.6,0.3)(1981.6,-0.3)(1982.64,0.6)(1982.64,-0.4)(1983.6,0.3)(1983.6,-0.3)(1984.6,0.3)(1984.6,-0.3)(1985.6,0.3)(1985.6,-0.3)(1986.6,0.3)(1986.6,-0.3)(1987.6,0.3)(1987.6,-0.3)(1988.6,0.3)(1988.6,-0.3)(1989.73,0.4)(1989.73,-0.3)(1990.6,0.3)(1990.6,-0.3)(1991.6,0.3)(1991.6,-0.3)(1992.66,0.6)(1992.66,-0.4)(1993.6,0.3)(1993.6,-0.3)(1994.6,0.3)(1994.6,-0.3)(1995.6,0.3)(1995.6,-0.3)(1996.6,0.3)(1996.6,-0.3)(1997.7,0.3)(1997.7,-0.3)(1998.6,0.3)(1998.6,-0.3)(1999.60,0.8)(1999.60,-0.5)(2000.52,0.7)(2000.52,-0.7)(2001.0,0.55)(2001.0,-0.55)(2001.5,0.3)(2001.5,-0.3)(2002.3,0.3)(2002.3,-0.3)(2002.8,0.55)(2002.8,-0.55)(2003.2,0.3)(2003.2,-0.3)(2003.6,0.3)(2003.6,-0.3)(2004.2,0.55)(2004.2,-0.55)(2004.69,1.45)(2004.69,-1.4)(2005.77,1.5)(2005.77,-0.3)(2006.6,0.3)(2006.6,-0.3)(2007.61,0.8)(2007.61,-0.4)(2008.6,0.3)(2008.6,-0.3)(2009.5,0.3)(2009.5,-0.3)(2010.1,0.3)(2010.1,-0.3)(2011.62,0.9)(2011.62,-0.8)(2012.7,0.3)(2012.7,-0.3)(2013.63,0.5)(2013.63,-0.5)};
\end{axis}

\begin{axis}[C={-249.4pt}, ylabel={level 3 (4d)}]
\addplot[band=2.6pt] coordinates {(1972,0) (2014,0)};
\addplot[spk] coordinates {(1972.62,0.6)(1972.62,-0.6)(1973.6,0.35)(1973.6,-0.35)(1974.70,0.8)(1974.70,-0.6)(1975.30,1.8)(1975.30,-1.5)(1976.63,0.9)(1976.63,-0.8)(1977.5,0.35)(1977.5,-0.35)(1978.5,0.35)(1978.5,-0.35)(1979.5,0.35)(1979.5,-0.35)(1980.63,0.4)(1980.63,-0.3)(1981.6,0.35)(1981.6,-0.35)(1982.64,0.5)(1982.64,-0.4)(1983.6,0.35)(1983.6,-0.35)(1984.6,0.35)(1984.6,-0.35)(1985.6,0.35)(1985.6,-0.35)(1986.6,0.35)(1986.6,-0.35)(1987.6,0.35)(1987.6,-0.35)(1988.6,0.35)(1988.6,-0.35)(1989.73,0.5)(1989.73,-0.4)(1990.6,0.35)(1990.6,-0.35)(1991.6,0.35)(1991.6,-0.35)(1992.66,0.6)(1992.66,-0.4)(1993.6,0.35)(1993.6,-0.35)(1994.6,0.35)(1994.6,-0.35)(1995.6,0.35)(1995.6,-0.35)(1996.6,0.35)(1996.6,-0.35)(1997.75,0.5)(1997.75,-0.4)(1998.6,0.35)(1998.6,-0.35)(1999.60,0.8)(1999.60,-0.6)(2000.0,0.5)(2000.0,-0.5)(2000.52,0.9)(2000.52,-0.8)(2001.0,0.5)(2001.0,-0.5)(2001.50,0.8)(2001.50,-0.8)(2002.0,0.5)(2002.0,-0.5)(2002.50,0.7)(2002.50,-0.6)(2003.0,0.5)(2003.0,-0.5)(2003.60,0.8)(2003.60,-0.7)(2004.2,0.5)(2004.2,-0.5)(2004.69,1.0)(2004.69,-1.1)(2005.77,0.6)(2005.77,-0.4)(2006.6,0.35)(2006.6,-0.35)(2007.61,0.6)(2007.61,-0.4)(2008.6,0.35)(2008.6,-0.35)(2009.5,0.35)(2009.5,-0.35)(2010.08,0.5)(2010.08,-0.4)(2011.70,1.0)(2011.70,-0.8)(2012.7,0.35)(2012.7,-0.35)(2013.63,0.6)(2013.63,-0.5)};
\end{axis}

\begin{axis}[C={-352.6pt}, ylabel={level 4 (8d)}]
\addplot[band=3.3pt] coordinates {(1972,0) (2014,0)};
\addplot[spk] coordinates {(1972.62,0.7)(1972.62,-0.6)(1973.6,0.4)(1973.6,-0.4)(1974.70,0.8)(1974.70,-0.7)(1975.30,1.6)(1975.30,-1.3)(1976.63,0.8)(1976.63,-0.7)(1977.5,0.4)(1977.5,-0.4)(1978.5,0.4)(1978.5,-0.4)(1979.5,0.4)(1979.5,-0.4)(1980.63,0.5)(1980.63,-0.4)(1981.6,0.4)(1981.6,-0.4)(1982.64,0.6)(1982.64,-0.5)(1983.6,0.4)(1983.6,-0.4)(1984.6,0.4)(1984.6,-0.4)(1985.6,0.4)(1985.6,-0.4)(1986.6,0.4)(1986.6,-0.4)(1987.6,0.4)(1987.6,-0.4)(1988.6,0.4)(1988.6,-0.4)(1989.73,0.6)(1989.73,-0.5)(1990.6,0.4)(1990.6,-0.4)(1991.6,0.4)(1991.6,-0.4)(1992.66,0.6)(1992.66,-0.5)(1993.6,0.4)(1993.6,-0.4)(1994.6,0.4)(1994.6,-0.4)(1995.6,0.4)(1995.6,-0.4)(1996.6,0.4)(1996.6,-0.4)(1997.75,0.6)(1997.75,-0.5)(1998.6,0.4)(1998.6,-0.4)(1999.60,0.9)(1999.60,-0.7)(2000.0,0.6)(2000.0,-0.6)(2000.52,1.0)(2000.52,-0.9)(2001.0,0.6)(2001.0,-0.6)(2001.50,0.9)(2001.50,-0.8)(2002.0,0.6)(2002.0,-0.6)(2002.50,0.8)(2002.50,-0.7)(2003.0,0.6)(2003.0,-0.6)(2003.60,0.9)(2003.60,-0.8)(2004.2,0.6)(2004.2,-0.6)(2004.69,1.1)(2004.69,-0.9)(2005.77,0.6)(2005.77,-0.5)(2006.6,0.4)(2006.6,-0.4)(2007.61,0.6)(2007.61,-0.5)(2008.6,0.4)(2008.6,-0.4)(2009.5,0.4)(2009.5,-0.4)(2010.08,0.6)(2010.08,-0.5)(2011.70,1.5)(2011.70,-0.9)(2012.7,0.4)(2012.7,-0.4)(2013.63,0.7)(2013.63,-0.6)};
\end{axis}

\begin{axis}[C={-455.8pt}, ylabel={level 5 (16d)}]
\addplot[band=3.3pt] coordinates {(1972,0) (2014,0)};
\addplot[spk=1pt] coordinates {(1972.62,0.6)(1972.62,-0.6)(1973.3,0.3)(1973.3,-0.3)(1974.04,0.5)(1974.04,-0.5)(1975.69,0.5)(1975.69,-0.7)(1976.68,1.15)(1976.68,-1.1)(1977.8,0.3)(1977.8,-0.3)(1978.8,0.3)(1978.8,-0.3)(1979.6,0.3)(1979.6,-0.3)(1980.57,0.4)(1980.57,-0.3)(1981.6,0.3)(1981.6,-0.3)(1982.70,0.4)(1982.70,-0.3)(1983.7,0.3)(1983.7,-0.3)(1984.5,0.3)(1984.5,-0.3)(1985.39,0.5)(1985.39,-0.4)(1986.5,0.3)(1986.5,-0.3)(1987.5,0.3)(1987.5,-0.3)(1988.6,0.3)(1988.6,-0.3)(1989.65,0.4)(1989.65,-0.3)(1990.79,0.4)(1990.79,-0.6)(1991.7,0.3)(1991.7,-0.3)(1992.72,0.85)(1992.72,-0.9)(1993.62,0.5)(1993.62,-0.4)(1994.6,0.3)(1994.6,-0.3)(1995.6,0.3)(1995.6,-0.3)(1996.6,0.3)(1996.6,-0.3)(1997.60,0.5)(1997.60,-0.4)(1998.6,0.3)(1998.6,-0.3)(1999.58,0.7)(1999.58,-0.5)(2000.2,0.3)(2000.2,-0.3)(2000.86,0.75)(2000.86,-0.75)(2001.3,0.3)(2001.3,-0.3)(2001.85,0.5)(2001.85,-0.5)(2002.5,0.3)(2002.5,-0.3)(2003.27,0.5)(2003.27,-0.7)(2003.8,0.3)(2003.8,-0.3)(2004.41,0.7)(2004.41,-0.6)(2005.0,0.3)(2005.0,-0.3)(2005.77,0.4)(2005.77,-0.4)(2006.7,0.3)(2006.7,-0.3)(2007.7,0.3)(2007.7,-0.3)(2008.7,0.3)(2008.7,-0.3)(2009.80,0.3)(2009.80,-0.3)(2010.7,0.3)(2010.7,-0.3)(2011.73,0.5)(2011.73,-0.6)(2012.8,0.3)(2012.8,-0.3)(2013.92,0.6)(2013.92,-0.6)};
\end{axis}

\begin{axis}[C={-559pt}, ylabel={level 6 (32d)}]
\addplot[band=2.6pt] coordinates {(1972,0) (2014,0)};
\addplot[spk=0.9pt] coordinates {(1972.77,0.6)(1972.77,-0.5)(1973.5,0.3)(1973.5,-0.3)(1974.55,1.0)(1974.55,-1.1)(1975.60,0.5)(1975.60,-0.6)(1976.5,0.3)(1976.5,-0.3)(1977.5,0.3)(1977.5,-0.3)(1978.5,0.3)(1978.5,-0.3)(1979.5,0.3)(1979.5,-0.3)(1980.5,0.3)(1980.5,-0.3)(1981.5,0.3)(1981.5,-0.3)(1982.84,0.3)(1982.84,-0.3)(1984.0,0.3)(1984.0,-0.3)(1985.5,0.3)(1985.5,-0.3)(1986.5,0.3)(1986.5,-0.3)(1987.5,0.3)(1987.5,-0.3)(1988.5,0.3)(1988.5,-0.3)(1989.65,0.4)(1989.65,-0.4)(1990.5,0.3)(1990.5,-0.3)(1991.5,0.3)(1991.5,-0.3)(1992.63,0.4)(1992.63,-0.4)(1993.5,0.3)(1993.5,-0.3)(1994.5,0.3)(1994.5,-0.3)(1995.5,0.3)(1995.5,-0.3)(1996.5,0.3)(1996.5,-0.3)(1997.5,0.3)(1997.5,-0.3)(1998.73,0.5)(1998.73,-0.5)(1999.5,0.3)(1999.5,-0.3)(2000.5,0.3)(2000.5,-0.3)(2001.5,0.3)(2001.5,-0.3)(2002.3,0.3)(2002.3,-0.3)(2002.99,0.8)(2002.99,-1.0)(2003.7,0.3)(2003.7,-0.3)(2004.69,0.5)(2004.69,-0.5)(2005.5,0.3)(2005.5,-0.3)(2006.5,0.3)(2006.5,-0.3)(2007.5,0.3)(2007.5,-0.3)(2008.5,0.3)(2008.5,-0.3)(2009.5,0.3)(2009.5,-0.3)(2010.5,0.3)(2010.5,-0.3)(2011.79,0.5)(2011.79,-0.6)(2012.5,0.3)(2012.5,-0.3)(2013.5,0.3)(2013.5,-0.3)};
\end{axis}

\begin{axis}[C={-662.2pt}, ylabel={level 7 (64d)}]
\addplot[band=1.8pt, black!75] coordinates {(1972,0) (2014,0)};
\addplot[spk=0.8pt, black!75] coordinates {(1972.48,0.6)(1972.48,-0.6)(1973.5,0.25)(1973.5,-0.25)(1974.5,0.25)(1974.5,-0.25)(1976.0,0.25)(1976.0,-0.25)(1977.5,0.25)(1977.5,-0.25)(1979.0,0.25)(1979.0,-0.25)(1980.5,0.25)(1980.5,-0.25)(1982.70,0.4)(1982.70,-0.3)(1984.0,0.25)(1984.0,-0.25)(1985.5,0.25)(1985.5,-0.25)(1987.0,0.25)(1987.0,-0.25)(1988.5,0.25)(1988.5,-0.25)(1989.65,0.6)(1989.65,-0.6)(1990.50,0.4)(1990.50,-0.45)(1991.5,0.25)(1991.5,-0.25)(1993.06,0.6)(1993.06,-0.5)(1994.5,0.25)(1994.5,-0.25)(1995.5,0.25)(1995.5,-0.25)(1996.5,0.25)(1996.5,-0.25)(1997.60,0.5)(1997.60,-0.4)(1998.59,0.5)(1998.59,-0.75)(1999.5,0.25)(1999.5,-0.25)(2000.5,0.25)(2000.5,-0.25)(2001.5,0.25)(2001.5,-0.25)(2002.3,0.25)(2002.3,-0.25)(2003.13,0.75)(2003.13,-0.7)(2004.0,0.25)(2004.0,-0.25)(2005.0,0.25)(2005.0,-0.25)(2006.0,0.25)(2006.0,-0.25)(2007.0,0.25)(2007.0,-0.25)(2008.0,0.25)(2008.0,-0.25)(2009.0,0.25)(2009.0,-0.25)(2010.0,0.25)(2010.0,-0.25)(2011.22,0.3)(2011.22,-0.4)(2012.0,0.25)(2012.0,-0.25)(2013.0,0.25)(2013.0,-0.25)};
\end{axis}

\begin{axis}[C={-765.4pt}, ylabel={level 8 (128d)}]
\addplot[wave] coordinates {(1972.00,-0.3)(1972.48,0.9)(1973.05,-0.78)(1973.70,0.55)(1974.19,-0.6)(1974.75,0.5)(1975.18,-0.54)(1975.75,0.45)(1976.17,-0.36)(1976.74,0.27)(1977.16,-0.36)(1977.68,0.42)(1978.16,-0.42)(1978.64,0.5)(1979.15,-0.54)(1979.66,0.6)(1980.14,-0.72)(1980.63,0.62)(1981.14,-0.6)(1981.65,0.48)(1982.13,-0.48)(1982.70,0.48)(1983.12,-0.6)(1983.69,0.55)(1984.20,-0.6)(1984.68,0.58)(1985.17,-0.66)(1985.68,0.66)(1986.10,-0.72)(1986.67,0.72)(1987.15,-0.66)(1987.66,0.72)(1988.17,-0.6)(1988.66,0.66)(1989.14,-0.66)(1989.65,0.62)(1990.16,-0.6)(1990.73,0.72)(1991.21,-0.72)(1991.64,0.62)(1992.15,-0.66)(1992.63,0.62)(1993.11,-0.96)(1993.62,0.9)(1994.13,-0.84)(1994.62,0.66)(1995.10,-0.72)(1995.61,0.6)(1996.12,-0.72)(1996.60,0.72)(1997.08,-0.72)(1997.65,0.78)(1998.16,-0.78)(1998.67,0.84)(1999.16,-1.02)(1999.58,0.96)(2000.15,-0.78)(2000.72,0.42)(2001.28,-0.24)(2001.85,0.18)(2002.30,-0.2)(2002.70,-0.22)(2003.20,-0.1)(2003.70,0.84)(2004.26,-0.9)(2004.83,0.84)(2005.26,-0.48)(2005.83,0.5)(2006.25,-0.54)(2006.68,0.6)(2007.19,-0.6)(2007.67,0.62)(2008.15,-0.48)(2008.66,0.5)(2009.17,-0.36)(2009.66,0.62)(2010.14,-0.54)(2010.65,0.55)(2011.16,-0.66)(2011.64,0.62)(2012.12,-0.7)(2012.64,0.58)(2013.15,-0.48)(2013.63,0.24)(2014.00,-0.1)};
\end{axis}

\begin{axis}[C={-868.6pt}, ylabel={level 9 (256d)}]
\addplot[wave] coordinates {(1972.00,0.3)(1972.28,0.8)(1973.14,-0.7)(1974.75,0.5)(1975.83,-0.6)(1977.25,0.4)(1978.58,-0.5)(1979.86,0.35)(1981.28,-0.2)(1982.78,0.3)(1983.69,-0.2)(1984.54,-0.1)(1985.34,0.05)(1986.95,-0.25)(1988.03,0.2)(1988.94,-0.15)(1989.79,-0.02)(1990.50,-0.15)(1991.49,0.1)(1992.20,-0.12)(1992.77,0.05)(1993.20,-0.25)(1993.91,0.35)(1994.76,-0.3)(1995.47,0.25)(1996.18,-0.25)(1996.83,0.25)(1997.45,-0.2)(1998.02,0.1)(1998.87,-0.45)(1999.72,0.4)(2000.58,-0.1)(2001.14,-0.02)(2001.85,-0.25)(2002.99,0.3)(2003.98,-0.55)(2004.97,0.45)(2005.83,-0.3)(2006.68,0.25)(2007.39,-0.25)(2008.24,0.35)(2009.23,-0.25)(2010.08,0.3)(2011.08,-0.3)(2011.93,0.2)(2012.92,-0.2)(2014.00,0.05)};
\end{axis}

\begin{axis}[C={-971.8pt}, ylabel={level 10 (512d)}]
\addplot[wave] coordinates {(1972.00,0.95)(1973.76,-1.4)(1975.46,0.95)(1976.88,-0.3)(1978.02,-0.1)(1979.29,-0.3)(1980.71,0.27)(1982.13,-0.22)(1983.55,0.1)(1985.11,-0.15)(1987.24,0.05)(1989.37,-0.15)(1990.79,0.05)(1992.20,-0.2)(1994.19,0.27)(1996.32,-0.42)(1998.39,0.37)(2000.21,-0.42)(2001.99,0.27)(2003.55,-0.35)(2004.97,0.12)(2007.10,-0.2)(2009.51,0.05)(2011.50,0.0)(2013.49,-0.12)(2014.00,-0.05)};
\end{axis}

\begin{axis}[base, at={(1108pt,-1075pt)}, width=444pt, xmax=2014, ymin=25, ymax=35, ytick={26,28,...,34},
  xlabel={time (year)}, ylabel={groundwater level (m)}]
\addplot[black, line width=1pt] coordinates {(1972.00,29.4)(1972.10,30.0)(1972.20,29.2)(1972.35,30.0)(1972.45,29.5)(1972.62,30.7)(1972.68,29.5)(1972.77,31.9)(1972.82,29.0)(1972.90,28.0)(1973.00,27.8)(1973.10,27.2)(1973.20,27.6)(1973.30,27.0)(1973.40,27.5)(1973.55,27.2)(1973.70,27.8)(1973.85,27.3)(1974.00,28.0)(1974.10,27.6)(1974.25,28.5)(1974.35,28.0)(1974.45,29.0)(1974.56,30.4)(1974.65,29.2)(1974.77,31.1)(1974.85,29.5)(1975.00,29.5)(1975.15,29.4)(1975.23,25.5)(1975.27,29.4)(1975.40,29.6)(1975.55,29.4)(1975.64,30.7)(1975.72,29.5)(1975.85,29.2)(1976.00,29.6)(1976.20,29.3)(1976.40,29.7)(1976.60,29.4)(1976.68,33.6)(1976.73,29.6)(1976.90,29.1)(1977.10,29.5)(1977.30,29.2)(1977.50,29.6)(1977.70,29.3)(1977.90,29.7)(1978.10,29.0)(1978.30,28.7)(1978.53,29.8)(1978.60,28.8)(1978.80,28.4)(1979.00,28.9)(1979.20,28.6)(1979.40,29.0)(1979.55,28.8)(1979.70,30.4)(1979.78,29.0)(1980.00,29.2)(1980.20,28.9)(1980.35,29.3)(1980.55,29.5)(1980.69,31.0)(1980.75,29.4)(1980.90,28.9)(1981.10,28.6)(1981.30,28.9)(1981.50,28.4)(1981.70,28.7)(1981.90,28.2)(1982.10,28.5)(1982.30,28.3)(1982.50,28.6)(1982.69,30.4)(1982.75,28.6)(1982.95,28.4)(1983.15,28.8)(1983.35,28.3)(1983.55,28.6)(1983.80,29.8)(1983.88,28.6)(1984.05,28.1)(1984.25,28.5)(1984.45,28.3)(1984.69,29.2)(1984.75,28.5)(1984.95,28.1)(1985.15,28.4)(1985.35,28.6)(1985.55,28.9)(1985.75,28.2)(1985.95,28.0)(1986.15,28.5)(1986.35,28.7)(1986.60,28.2)(1986.80,27.9)(1987.00,28.3)(1987.25,29.2)(1987.35,28.4)(1987.55,28.0)(1987.75,28.3)(1988.02,29.8)(1988.10,28.5)(1988.30,28.2)(1988.50,28.0)(1988.70,28.5)(1988.90,28.2)(1989.10,28.8)(1989.30,28.3)(1989.50,29.0)(1989.71,30.0)(1989.80,28.7)(1990.00,28.2)(1990.20,28.5)(1990.40,28.3)(1990.60,28.8)(1990.79,29.9)(1990.88,28.8)(1991.05,28.5)(1991.25,28.9)(1991.45,28.4)(1991.65,28.7)(1991.85,28.2)(1992.05,28.0)(1992.25,28.3)(1992.45,28.5)(1992.64,30.5)(1992.72,28.4)(1992.90,27.8)(1993.10,27.7)(1993.30,28.3)(1993.50,28.8)(1993.63,30.6)(1993.72,28.6)(1993.90,28.0)(1994.10,28.2)(1994.30,28.4)(1994.50,27.9)(1994.70,28.0)(1994.90,28.6)(1995.10,28.2)(1995.30,27.5)(1995.50,27.4)(1995.65,29.2)(1995.75,28.2)(1995.95,27.6)(1996.15,27.9)(1996.35,28.8)(1996.45,27.8)(1996.65,27.5)(1996.85,27.6)(1997.05,28.0)(1997.30,28.6)(1997.57,29.8)(1997.65,28.3)(1997.85,28.0)(1998.05,28.5)(1998.20,29.4)(1998.30,28.6)(1998.56,30.1)(1998.65,28.5)(1998.85,28.0)(1999.05,28.3)(1999.25,28.8)(1999.45,29.2)(1999.57,30.4)(1999.65,28.8)(1999.80,27.8)(1999.95,27.3)(2000.10,28.6)(2000.20,27.4)(2000.30,29.1)(2000.40,27.3)(2000.50,28.5)(2000.60,27.5)(2000.70,28.8)(2000.80,27.4)(2000.90,28.4)(2001.00,27.3)(2001.10,28.6)(2001.20,27.5)(2001.30,29.0)(2001.40,27.4)(2001.50,28.5)(2001.60,27.3)(2001.70,28.6)(2001.80,27.5)(2001.90,28.7)(2002.00,27.4)(2002.10,28.4)(2002.20,27.6)(2002.30,28.8)(2002.40,27.3)(2002.50,28.6)(2002.60,27.4)(2002.70,28.5)(2002.80,27.6)(2002.90,28.7)(2003.00,27.4)(2003.10,28.5)(2003.20,27.3)(2003.30,29.4)(2003.40,27.5)(2003.50,28.6)(2003.60,27.4)(2003.70,28.5)(2003.80,27.3)(2003.90,28.4)(2004.00,27.6)(2004.10,28.6)(2004.20,27.5)(2004.30,28.8)(2004.42,29.5)(2004.52,31.6)(2004.59,30.8)(2004.66,31.3)(2004.75,29.5)(2004.85,29.0)(2005.00,28.8)(2005.15,29.2)(2005.35,28.8)(2005.55,29.0)(2005.64,32.0)(2005.70,28.9)(2005.85,29.1)(2006.00,28.8)(2006.15,29.3)(2006.30,28.9)(2006.45,29.1)(2006.60,28.8)(2006.75,29.4)(2006.90,29.6)(2007.00,29.9)(2007.10,29.0)(2007.25,28.6)(2007.45,28.3)(2007.58,31.2)(2007.65,28.6)(2007.85,28.4)(2008.05,28.8)(2008.25,29.3)(2008.45,28.9)(2008.65,28.5)(2008.85,28.2)(2009.05,28.0)(2009.25,28.4)(2009.45,28.1)(2009.65,28.7)(2009.85,28.3)(2010.05,28.7)(2010.25,28.5)(2010.36,30.0)(2010.45,28.5)(2010.65,28.2)(2010.85,27.9)(2011.05,28.1)(2011.25,27.8)(2011.45,28.3)(2011.65,31.7)(2011.72,28.6)(2011.90,28.2)(2012.10,27.9)(2012.30,28.3)(2012.57,30.2)(2012.65,28.5)(2012.85,28.0)(2013.05,27.8)(2013.25,27.9)(2013.45,28.2)(2013.65,27.8)(2013.85,28.3)(2013.93,30.0)(2014.00,28.2)};
\end{axis}
\end{tikzpicture}
\end{document}
